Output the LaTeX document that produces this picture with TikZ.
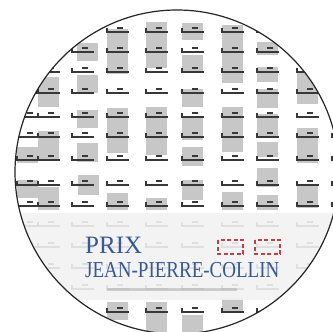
\documentclass[tikz,border=0pt]{standalone}
\usepackage{fontspec}
\setmainfont{Liberation Serif}
\definecolor{prixblue}{RGB}{58,88,148}
\definecolor{prixred}{RGB}{200,60,72}
\begin{document}
\begin{tikzpicture}[x=1pt,y=-1pt,
  cellline/.style={line width=1.4pt, draw=black!78},
  dashline/.style={line width=1.1pt, draw=black!78},
  graybox/.style={fill=black!22, draw=none},
  bandfill/.style={fill=black!5, opacity=0.9},
  redbox/.style={draw=prixred, line width=1.1pt, dash pattern=on 4pt off 2.5pt},
  rim/.style={draw=black!85, line width=1.2pt},
  title/.style={anchor=base west, inner sep=0pt, text=prixblue}]
\useasboundingbox (0,0) rectangle (333,332);
\fill[white] (0,0) rectangle (333,332);
\begin{scope}
\clip (177,172) circle[radius=162];
% gray boxes
\foreach \x/\ya/\yb in {
  17/147/163, 17/180/198,
  38/77/107, 38/131/161, 38/187/210,
  77/43/61, 77/75/93, 77/110/128, 77/143/162, 78/175/195,
  107/29/74, 107/108/153, 107/193/210, 107/302/320,
  146/22/68, 146/107/155, 146/198/210, 146/302/332,
  182/23/40, 182/55/73, 182/89/107, 182/118/140, 182/147/166, 182/180/200, 182/315/332,
  222/25/83, 222/107/152, 222/192/210, 222/298/313,
  257/42/55, 257/67/82, 257/89/108, 257/114/137, 257/142/157, 257/168/187, 257/195/210,
  297/72/104, 297/128/163, 297/185/208}
  \fill[graybox] (\x,\ya) rectangle ({\x+21},\yb);
% seat symbols
\foreach \x in {17,38,72,107,146,182,222,257,297,332}
  \foreach \y in {32,52,72,93,117,137,160,185,206,226,247,268,289,312}
  {
    \draw[cellline] (\x,{\y-4}) -- (\x,\y) -- ({\x+22},\y);
    \draw[dashline] ({\x+10},{\y-4}) -- ({\x+16},{\y-4});
  }
% translucent band
\fill[bandfill] (0,213) rectangle (333,300);
\fill[black!30, opacity=0.6] (107,287.5) rectangle (237,290.5);
\end{scope}
\draw[rim] (177,172) circle[radius=162];
\draw[redbox] (218,240) rectangle (243,254);
\draw[redbox] (255,240) rectangle (280,254);
\node[title, font=\fontsize{25}{25}\selectfont] (prix) at (85,253) {PRIX};
\node[title, font=\fontsize{19}{19}\selectfont] (jpc) at (85,277) {\scalebox{1}[1.2]{JEAN-PIERRE-COLLIN}};
\end{tikzpicture}
\end{document}
